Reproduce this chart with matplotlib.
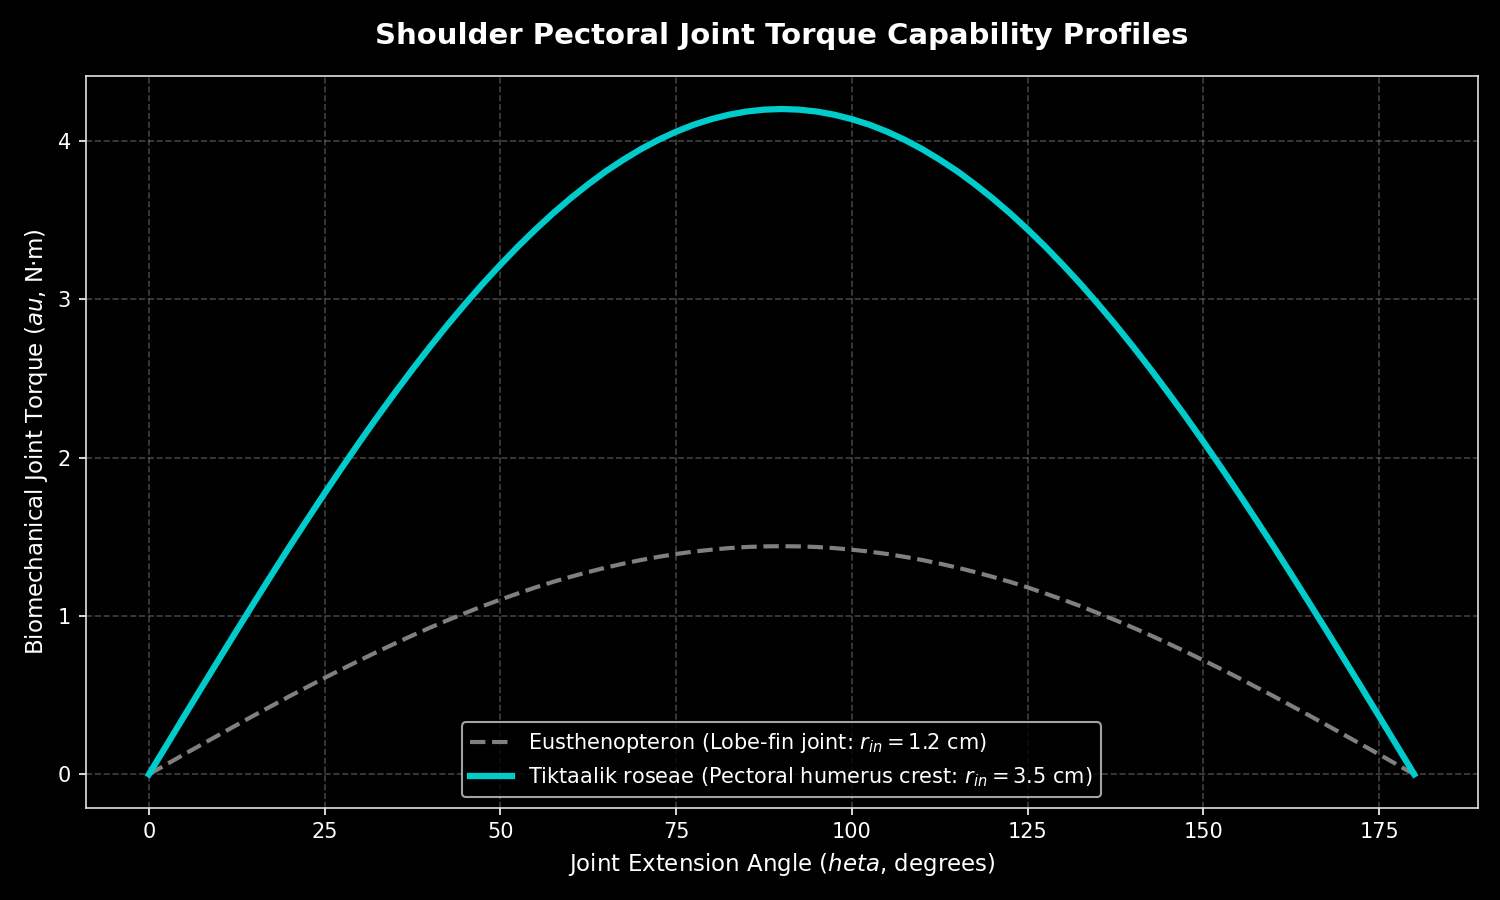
import matplotlib
matplotlib.use("Agg")
import matplotlib.pyplot as plt

# joint angle samples (degrees), every 2.5 degrees
angles = [i * 2.5 for i in range(73)]

euth_half = [0.000, 0.063, 0.126, 0.188, 0.250, 0.312, 0.373, 0.433, 0.493, 0.551,
             0.609, 0.665, 0.720, 0.774, 0.826, 0.877, 0.926, 0.973, 1.018, 1.062,
             1.103, 1.142, 1.180, 1.215, 1.247, 1.277, 1.305, 1.330, 1.353, 1.373,
             1.391, 1.406, 1.418, 1.428, 1.435, 1.439, 1.440]
tikt_half = [0.000, 0.183, 0.366, 0.548, 0.729, 0.909, 1.087, 1.263, 1.437, 1.607,
             1.775, 1.939, 2.100, 2.257, 2.409, 2.557, 2.700, 2.838, 2.970, 3.097,
             3.217, 3.332, 3.440, 3.542, 3.637, 3.725, 3.807, 3.880, 3.947, 4.006,
             4.057, 4.101, 4.136, 4.164, 4.184, 4.196, 4.200]
euth_torque = euth_half + euth_half[-2::-1]
tikt_torque = tikt_half + tikt_half[-2::-1]

euth_label = "Eusthenopteron (Lobe-fin joint: $r_{in} = 1.2$ cm)"
tikt_label = "Tiktaalik roseae (Pectoral humerus crest: $r_{in} = 3.5$ cm)"

plt.style.use("dark_background")
fig, ax = plt.subplots(figsize=(10, 6), dpi=150)

ax.plot(angles, euth_torque, color="gray", linestyle="--", linewidth=2, label=euth_label)
ax.plot(angles, tikt_torque, color="#00cccc", linewidth=3, label=tikt_label)

ax.set_title("Shoulder Pectoral Joint Torque Capability Profiles",
             fontsize=14, fontweight="bold", pad=15)
ax.set_xlabel("Joint Extension Angle ($heta$, degrees)", fontsize=11)
ax.set_ylabel("Biomechanical Joint Torque ($au$, N·m)", fontsize=11)
ax.set_yticks([0, 1, 2, 3, 4])
ax.grid(True, linestyle="--", color="gray", alpha=0.5)
for s in ax.spines.values():
    s.set_color("#e0e0e0")

ax.legend(loc="lower center")

plt.tight_layout()
plt.savefig("out.png")
